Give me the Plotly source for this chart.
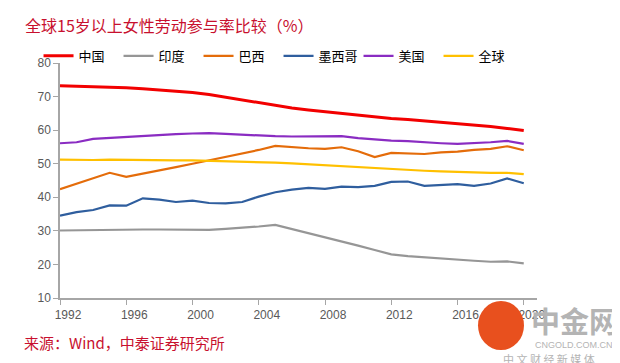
import plotly.graph_objects as go

years = list(range(1992, 2021))

china = [73.2, 73.1, 73.0, 72.8, 72.6, 72.3, 72.0, 71.6, 71.2, 70.6,
         69.8, 69.0, 68.1, 67.3, 66.6, 66.0, 65.5, 65.0, 64.3, 63.8,
         63.5, 63.2, 62.8, 62.4, 62.0, 61.6, 61.1, 60.5, 59.9]
india = [30.1, 30.2, 30.3, 30.4, 30.4, 30.4, 30.4, 30.3, 30.2, 30.3,
         30.6, 30.9, 31.3, 31.8, 30.6, 29.3, 28.1, 26.9, 25.6, 24.3,
         23.0, 22.5, 22.1, 21.7, 21.4, 21.1, 20.8, 20.9, 20.3]
brazil = [42.4, 44.0, 45.6, 47.3, 46.1, 47.0, 47.9, 49.0, 50.0, 51.0,
          52.2, 53.2, 54.1, 55.3, 54.9, 54.6, 54.4, 54.9, 53.7, 52.0,
          53.2, 53.0, 52.9, 53.4, 53.6, 54.1, 54.4, 55.2, 54.0]
mexico = [34.5, 35.6, 36.2, 37.6, 37.5, 39.7, 39.3, 38.6, 39.0, 38.3,
          38.2, 38.6, 40.2, 41.5, 42.3, 42.8, 42.5, 43.2, 43.0, 43.4,
          44.6, 44.7, 43.4, 43.7, 43.9, 43.4, 44.1, 45.6, 44.2]
usa = [56.1, 56.4, 57.4, 57.7, 58.0, 58.4, 58.7, 58.8, 59.0, 59.1,
       58.9, 58.6, 58.4, 58.2, 58.1, 58.2, 58.3, 58.2, 57.6, 57.2,
       56.9, 56.7, 56.3, 56.1, 55.9, 56.1, 56.4, 56.8, 55.9]
world = [51.2, 51.1, 51.1, 51.2, 51.1, 51.1, 51.0, 51.0, 51.0, 50.9,
         50.8, 50.6, 50.4, 50.3, 50.1, 49.8, 49.6, 49.3, 49.0, 48.7,
         48.4, 48.1, 47.9, 47.7, 47.5, 47.4, 47.3, 47.3, 46.9]

series_names = ["中国", "印度", "巴西", "墨西哥", "美国", "全球"]
series_values = [china, india, brazil, mexico, usa, world]
series_colors = ["#F20000", "#969696", "#E46C0A", "#2F5E9E", "#8A2CC2", "#FFC000"]
series_widths = [3, 2.2, 2.2, 2.2, 2.2, 2.2]

tick_years = list(range(1992, 2021, 4))
tick_labels = [str(y) for y in tick_years]
y_ticks = list(range(10, 81, 10))

fig = go.Figure()
for name, vals, col, w in zip(series_names, series_values, series_colors, series_widths):
    fig.add_trace(go.Scatter(x=years, y=vals, name=name, mode="lines",
                             line=dict(color=col, width=w)))

axis_color = "#A6A6A6"
fig.update_layout(
    width=620, height=363,
    margin=dict(l=52, r=91, t=55, b=73),
    paper_bgcolor="white", plot_bgcolor="white",
    font=dict(family="Noto Sans CJK SC", color="#000000"),
    showlegend=True,
    legend=dict(orientation="h", x=-0.045, y=1.094, xanchor="left", yanchor="top",
                font=dict(size=13, family="Noto Sans CJK SC", color="#000000"),
                entrywidth=35, entrywidthmode="pixels", itemwidth=30,
                bgcolor="rgba(255,255,255,0)", tracegroupgap=0),
    xaxis=dict(range=[1992, 2020.8], tickvals=tick_years, ticktext=tick_labels,
               showgrid=False, zeroline=False, showline=True, linecolor=axis_color,
               linewidth=1.5, ticks="outside", ticklen=5, tickcolor=axis_color,
               tickfont=dict(family="Liberation Sans", size=12, color="#595959"),
               ticklabelshift=8),
    yaxis=dict(range=[10, 80], tickvals=y_ticks,
               showgrid=False, zeroline=False, showline=True, linecolor=axis_color,
               linewidth=1.5, ticks="outside", ticklen=5, tickcolor=axis_color,
               tickfont=dict(family="Liberation Sans", size=12, color="#595959")),
)

fig.add_annotation(text="全球15岁以上女性劳动参与率比较（%）", xref="paper", yref="paper",
                   x=-0.078, y=1.0, xanchor="left", yanchor="bottom", yshift=24,
                   showarrow=False,
                   font=dict(size=16, color="#C8102E", family="Noto Sans CJK SC"))
fig.add_annotation(text="来源：Wind，中泰证券研究所", xref="paper", yref="paper",
                   x=-0.08, y=0, xanchor="left", yanchor="top", yshift=-32,
                   showarrow=False,
                   font=dict(size=15, color="#C8102E", family="Noto Sans CJK SC"))

# watermark
fig.add_shape(type="circle", xref="paper", yref="paper",
              x0=(470 - 52) / 477, x1=(516 - 52) / 477,
              y0=(290 - 342) / 235, y1=(290 - 293) / 235,
              fillcolor="#E8501E", line=dict(width=0), layer="above")
fig.add_annotation(text="<b>中金网</b>", xref="paper", yref="paper",
                   x=(566 - 52) / 477, y=(290 - 312) / 235, xanchor="center", yanchor="middle",
                   showarrow=False, font=dict(size=29, color="#B4B4B4", family="Noto Sans CJK SC"))
fig.add_annotation(text="CNGOLD.COM.CN", xref="paper", yref="paper",
                   x=(566 - 52) / 477, y=(290 - 337) / 235, xanchor="center", yanchor="middle",
                   showarrow=False, font=dict(size=9, color="#B4B4B4", family="Liberation Sans"))
fig.add_annotation(text="中 文 财 经 新 媒 体", xref="paper", yref="paper",
                   x=(541 - 52) / 477, y=(290 - 351) / 235, xanchor="center", yanchor="middle",
                   showarrow=False, font=dict(size=11, color="#B4B4B4", family="Noto Sans CJK SC"))

fig.write_html("out.html")
